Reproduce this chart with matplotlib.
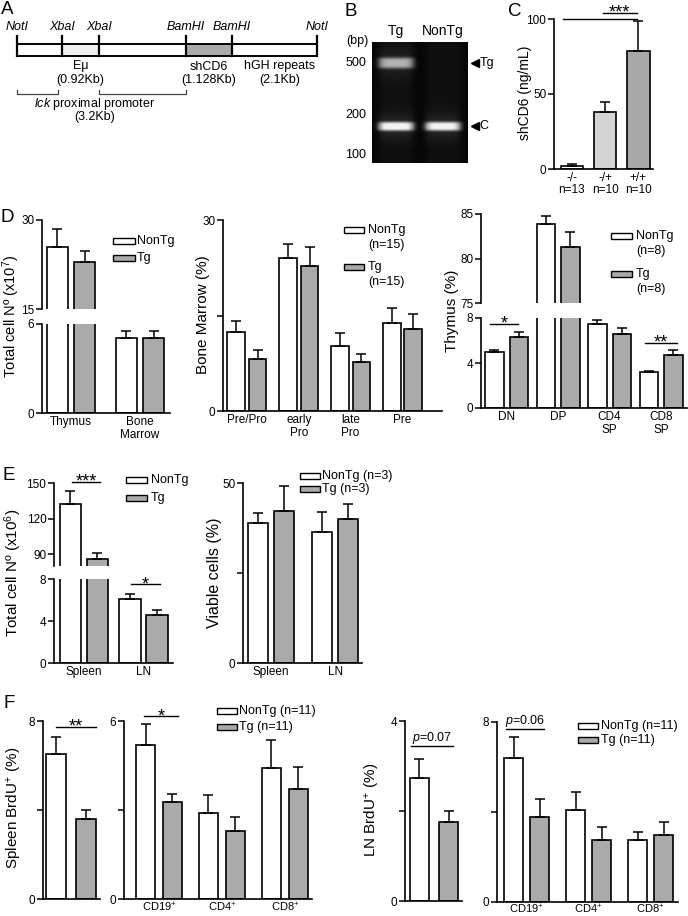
import numpy as np
import matplotlib
matplotlib.use('Agg')
import matplotlib.pyplot as plt
from matplotlib.patches import Rectangle

plt.rcParams['font.family'] = ['Liberation Sans', 'DejaVu Sans']
plt.rcParams['mathtext.fontset'] = 'custom'
plt.rcParams['mathtext.rm'] = 'Liberation Sans'
plt.rcParams['mathtext.it'] = 'Liberation Sans:italic'
plt.rcParams['mathtext.bf'] = 'Liberation Sans:bold'

# ---------------- data ----------------
# A: construct map (segment lengths in kb)
a_sites = ['NotI', 'XbaI', 'XbaI', 'BamHI', 'BamHI', 'NotI']
a_seg_kb = [1.1, 0.92, 2.13, 1.128, 2.1]
a_seg_text = {1: 'Eμ\n(0.92Kb)', 3: 'shCD6\n(1.128Kb)', 4: 'hGH repeats\n(2.1Kb)'}

# B: PCR gel
gel_lanes = ['Tg', 'NonTg']
gel_bands = [[490, 160], [160]]          # bp per lane
gel_band_int = [[0.6, 0.88], [0.86]]
gel_markers = [500, 200, 100]
gel_arrows = [(490, 'Tg'), (160, 'C')]

# C: serum shCD6
c_groups = ['-/-', '-/+', '+/+']
c_n = ['n=13', 'n=10', 'n=10']
c_mean = [2.0, 38.0, 79.0]
c_err = [1.5, 6.5, 19.5]

# D: total cell numbers (x10^7)
d1_labels = ['Thymus', 'Bone\nMarrow']
d1_nontg = [25.4, 5.05]
d1_nontg_err = [3.1, 0.45]
d1_tg = [22.9, 5.05]
d1_tg_err = [1.9, 0.45]

# D: bone marrow subsets (%)
d2_labels = ['Pre/Pro', 'early\nPro', 'late\nPro', 'Pre']
d2_nontg = [12.4, 24.0, 10.2, 13.8]
d2_nontg_err = [1.7, 2.2, 2.0, 2.4]
d2_tg = [8.2, 22.8, 7.7, 12.9]
d2_tg_err = [1.4, 2.9, 1.2, 2.3]

# D: thymus subsets (%)
d3_labels = ['DN', 'DP', 'CD4\nSP', 'CD8\nSP']
d3_nontg = [5.0, 83.9, 7.45, 3.2]
d3_nontg_err = [0.2, 0.9, 0.35, 0.08]
d3_tg = [6.3, 81.3, 6.6, 4.7]
d3_tg_err = [0.5, 1.7, 0.5, 0.45]

# E: total cell numbers (x10^6)
e1_labels = ['Spleen', 'LN']
e1_nontg = [132.0, 6.1]
e1_nontg_err = [11.0, 0.5]
e1_tg = [85.6, 4.55]
e1_tg_err = [5.0, 0.5]

# E: viable cells (%)
e2_nontg = [38.9, 36.4]
e2_nontg_err = [2.8, 5.6]
e2_tg = [42.2, 40.0]
e2_tg_err = [7.0, 4.2]

# F: BrdU+ (%)
f_labels = ['CD19$^{+}$', 'CD4$^{+}$', 'CD8$^{+}$']
f1_nontg, f1_nontg_err, f1_tg, f1_tg_err = [6.5], [0.8], [3.6], [0.4]
f2_nontg = [5.2, 2.9, 4.4]
f2_nontg_err = [0.7, 0.6, 0.97]
f2_tg = [3.27, 2.3, 3.7]
f2_tg_err = [0.27, 0.45, 0.74]
f3_nontg, f3_nontg_err, f3_tg, f3_tg_err = [2.73], [0.43], [1.76], [0.25]
f4_nontg = [6.4, 4.1, 2.76]
f4_nontg_err = [0.93, 0.8, 0.35]
f4_tg = [3.78, 2.76, 2.98]
f4_tg_err = [0.8, 0.57, 0.58]

# ---------------- helpers ----------------
W, H = 688, 916
fig = plt.figure(figsize=(W / 100, H / 100), dpi=100)
TG_GRAY = '#aaaaaa'


def px_axes(x0, y0, x1, y1):
    return fig.add_axes([x0 / W, 1 - y1 / H, (x1 - x0) / W, (y1 - y0) / H])


def style(ax, ylim, yticks, ylabels=None, xlim=None, bottom=True):
    ax.set_ylim(*ylim)
    ax.set_xlim(*xlim)
    ax.set_yticks(yticks)
    ax.set_yticklabels(ylabels if ylabels else [str(t) for t in yticks])
    ax.spines[['top', 'right']].set_visible(False)
    ax.spines['left'].set_linewidth(1.2)
    ax.spines['bottom'].set_linewidth(1.2)
    ax.tick_params(axis='y', length=4, width=1.1, labelsize=8.5, pad=1.5)
    ax.tick_params(axis='x', length=0, labelsize=8.5, pad=2.5)
    ax.patch.set_alpha(0)
    if not bottom:
        ax.spines['bottom'].set_visible(False)
        ax.set_xticks([])


def pair_bars(ax, nontg, nontg_err, tg, tg_err, d, w):
    x = np.arange(len(nontg))
    for xs, vals, errs, fc in ((x - d, nontg, nontg_err, 'white'),
                               (x + d, tg, tg_err, TG_GRAY)):
        ax.bar(xs, vals, w, color=fc, edgecolor='k', linewidth=1.2, zorder=2)
        ax.errorbar(xs, vals, yerr=[np.zeros(len(vals)), errs], fmt='none',
                    ecolor='k', elinewidth=1.1, capsize=3.5, capthick=1.1, zorder=3)
    return x


def sig(ax, x0, x1, y, txt, size=9):
    ax.plot([x0, x1], [y, y], color='k', lw=1, clip_on=False)
    if not txt:
        return
    if '*' in txt:
        # asterisks sit high in the glyph box: anchor on baseline and nudge down
        ax.annotate(txt, ((x0 + x1) / 2, y), xytext=(0, -3.5), textcoords='offset points',
                    ha='center', va='baseline', fontsize=13, annotation_clip=False)
    else:
        ax.text((x0 + x1) / 2, y, txt, ha='center', va='bottom', fontsize=size, clip_on=False)


# ---------------- B: gel ----------------
axg = px_axes(372, 42, 468, 163)
gx_lim = (-0.51, 1.53)
gy_lim = (np.log10(84), np.log10(707))
gx = np.linspace(*gx_lim, 200)
gy = np.linspace(*gy_lim, 250)
GX, GY = np.meshgrid(gx, gy)
img = np.full(GX.shape, 0.03)
for i, (bands, ints) in enumerate(zip(gel_bands, gel_band_int)):
    lane = np.exp(-((GX - i) / 0.38) ** 6)
    img += 0.035 * lane
    for bp, a in zip(bands, ints):
        sy = 0.042 if bp > 300 else 0.034
        img += a * lane * np.exp(-((GY - np.log10(bp)) / sy) ** 4)
        img += 0.12 * a * lane * np.exp(-((GY - np.log10(bp)) / (3 * sy)) ** 2)
axg.imshow(np.clip(img, 0, 1), extent=[*gx_lim, *gy_lim], origin='lower', cmap='gray',
           vmin=0, vmax=1.05, aspect='auto', interpolation='bilinear')
axg.set_xlim(*gx_lim)
axg.set_ylim(*gy_lim)
axg.set_yticks(np.log10(gel_markers))
axg.set_yticklabels([str(m) for m in gel_markers])
axg.set_xticks(range(len(gel_lanes)))
axg.set_xticklabels(gel_lanes)
axg.xaxis.tick_top()
axg.tick_params(axis='y', length=0, labelsize=9, pad=4)
axg.tick_params(axis='x', length=0, labelsize=10, pad=3)
for s in axg.spines.values():
    s.set_visible(False)
for bp, lab in gel_arrows:
    axg.plot(1.68, np.log10(bp), marker='<', ms=5.5, color='k', clip_on=False)
    axg.text(1.78, np.log10(bp), lab, ha='left', va='center', fontsize=9, clip_on=False)

# ---------------- C ----------------
axc = px_axes(554, 19, 653, 169)
xc = np.arange(len(c_mean))
axc.bar(xc, c_mean, 0.68, color=['white', '#d4d4d4', '#a9a9a9'], edgecolor='k', linewidth=1.2, zorder=2)
axc.errorbar(xc, c_mean, yerr=[np.zeros(len(c_mean)), c_err], fmt='none', ecolor='k',
             elinewidth=1.1, capsize=3.5, capthick=1.1, zorder=3)
style(axc, (0, 100), [0, 50, 100], xlim=(-0.54, 2.44))
axc.set_xticks(xc)
axc.set_xticklabels([g + '\n' + n for g, n in zip(c_groups, c_n)], fontsize=8.5, linespacing=0.95)
sig(axc, -0.27, 1.95, 100, '')
sig(axc, 0.93, 1.95, 104, '***')

# ---------------- D left (broken) ----------------
dl_top = px_axes(42, 220, 170, 309)
dl_bot = px_axes(42, 324, 170, 413)
for ax in (dl_top, dl_bot):
    x = pair_bars(ax, d1_nontg, d1_nontg_err, d1_tg, d1_tg_err, 0.2, 0.3)
style(dl_top, (15, 30), [15, 30], xlim=(-0.42, 1.435), bottom=False)
style(dl_bot, (0, 6), [0, 6], xlim=(-0.42, 1.435))
dl_bot.set_xticks(x)
dl_bot.set_xticklabels(d1_labels, linespacing=1.1)

# ---------------- D middle ----------------
dm = px_axes(223, 220, 442, 411)
x = pair_bars(dm, d2_nontg, d2_nontg_err, d2_tg, d2_tg_err, 0.207, 0.34)
style(dm, (0, 30), [0, 15, 30], ['0', '', '30'], xlim=(-0.46, 3.76))
dm.set_xticks(x)
dm.set_xticklabels(d2_labels, linespacing=1.1)

# ---------------- D right (broken) ----------------
dr_top = px_axes(481, 214, 687, 303)
dr_bot = px_axes(481, 318, 687, 408)
for ax in (dr_top, dr_bot):
    x = pair_bars(ax, d3_nontg, d3_nontg_err, d3_tg, d3_tg_err, 0.238, 0.36)
style(dr_top, (75, 85), [75, 80, 85], xlim=(-0.495, 3.5), bottom=False)
style(dr_bot, (0, 8), [0, 4, 8], xlim=(-0.495, 3.5))
dr_bot.set_xticks(x)
dr_bot.set_xticklabels(d3_labels, linespacing=1.1)
sig(dr_bot, -0.32, 0.22, 7.47, '*')
sig(dr_bot, 2.69, 3.31, 5.8, '**')

# ---------------- E left (broken) ----------------
el_top = px_axes(54, 483, 173, 566)
el_bot = px_axes(54, 579, 173, 663)
for ax in (el_top, el_bot):
    x = pair_bars(ax, e1_nontg, e1_nontg_err, e1_tg, e1_tg_err, 0.227, 0.36)
style(el_top, (80, 150), [90, 120, 150], xlim=(-0.504, 1.496), bottom=False)
style(el_bot, (0, 8), [0, 4, 8], xlim=(-0.504, 1.496))
el_bot.set_xticks(x)
el_bot.set_xticklabels(e1_labels)
sig(el_top, -0.2, 0.27, 151, '***')
sig(el_bot, 0.79, 1.28, 7.5, '*')

# ---------------- E right ----------------
er = px_axes(243, 483, 362, 663)
x = pair_bars(er, e2_nontg, e2_nontg_err, e2_tg, e2_tg_err, 0.203, 0.31)
style(er, (0, 50), [0, 25, 50], ['0', '', '50'], xlim=(-0.4375, 1.42))
er.set_xticks(x)
er.set_xticklabels(e1_labels)

# ---------------- F ----------------
f1 = px_axes(43, 721, 100, 899)
pair_bars(f1, f1_nontg, f1_nontg_err, f1_tg, f1_tg_err, 0.25, 0.33)
style(f1, (0, 8), [0, 4, 8], ['0', '', '8'], xlim=(-0.467, 0.483))
f1.set_xticks([])
sig(f1, -0.25, 0.417, 7.73, '**')

f2 = px_axes(124, 721, 312, 899)
x = pair_bars(f2, f2_nontg, f2_nontg_err, f2_tg, f2_tg_err, 0.214, 0.31)
style(f2, (0, 6), [0, 3, 6], ['0', '', '6'], xlim=(-0.556, 2.43))
f2.set_xticks(x)
f2.set_xticklabels(f_labels)
f2.tick_params(axis='x', labelsize=8, pad=1)
sig(f2, -0.24, 0.30, 6.16, '*')

f3 = px_axes(405, 721, 462, 901)
pair_bars(f3, f3_nontg, f3_nontg_err, f3_tg, f3_tg_err, 0.242, 0.317)
style(f3, (0, 4), [0, 2, 4], ['0', '', '4'], xlim=(-0.483, 0.467))
f3.set_xticks([])
sig(f3, -0.38, 0.32, 3.44, '$p$=0.07')

f4 = px_axes(497, 722, 678, 902)
x = pair_bars(f4, f4_nontg, f4_nontg_err, f4_tg, f4_tg_err, 0.21, 0.306)
style(f4, (0, 8), [0, 4, 8], ['0', '', '8'], xlim=(-0.476, 2.44))
f4.set_xticks(x)
f4.set_xticklabels(f_labels)
f4.tick_params(axis='x', labelsize=8, pad=0.5)
sig(f4, -0.33, 0.28, 7.69, '$p$=0.06')

# ---------------- overlay (pixel coords) ----------------
ov = fig.add_axes([0, 0, 1, 1], zorder=10)
ov.set_xlim(0, W)
ov.set_ylim(H, 0)
ov.axis('off')

# A: construct map
edges = 17 + 40.7 * np.concatenate([[0], np.cumsum(a_seg_kb)])
fills = ['white', '#efefef', 'white', '#a9a9a9', 'white']
for i in range(len(a_seg_kb)):
    ov.add_patch(Rectangle((edges[i], 44), edges[i + 1] - edges[i], 12,
                           facecolor=fills[i], edgecolor='k', lw=1.4))
for e, site in zip(edges, a_sites):
    ov.plot([e, e], [36, 56], color='k', lw=1.6)
    ov.text(e, 27, site, style='italic', ha='center', va='center', fontsize=9)
for i, txt in a_seg_text.items():
    cx = (edges[i] + edges[i + 1]) / 2 + (5 if i == 4 else 0)
    ov.text(cx, 60.5, txt, ha='center', va='top', fontsize=9, linespacing=1.2)
for xa, xb in ((edges[0], edges[1] - 4), (edges[2], edges[3])):
    ov.plot([xa, xa, xb, xb], [90, 94, 94, 90], color='#444444', lw=0.9)
ov.text(95, 104, '$lck$ proximal promoter', ha='center', va='center', fontsize=9)
ov.text(95, 117, '(3.2Kb)', ha='center', va='center', fontsize=9)
ov.text(357, 41, '(bp)', ha='center', va='center', fontsize=9)

# panel letters
for lx, ly, lt in ((7, 10, 'A'), (351, 11, 'B'), (515, 12, 'C'), (7, 217, 'D'),
                   (9, 476, 'E'), (9, 704, 'F')):
    ov.text(lx, ly, lt, ha='center', va='center', fontsize=13.5)

# y-axis titles
for yx, yy, yt, fs in ((525, 93, 'shCD6 (ng/mL)', 10),
                       (11, 316, 'Total cell Nº (x10$^{7}$)', 10.5),
                       (203, 315, 'Bone Marrow (%)', 11),
                       (452, 311, 'Thymus (%)', 11),
                       (13, 573, 'Total cell Nº (x10$^{6}$)', 11),
                       (214, 573, 'Viable cells (%)', 11.5),
                       (15, 808, 'Spleen BrdU$^{+}$ (%)', 11),
                       (372, 810, 'LN BrdU$^{+}$ (%)', 11)):
    ov.text(yx, yy, yt, rotation=90, ha='center', va='center', fontsize=fs)


def legend(x0, x1, rows, labels, tx):
    for (y, lab), fc in zip(zip(rows, labels), ('white', TG_GRAY)):
        ov.add_patch(Rectangle((x0, y - 3), x1 - x0, 6, facecolor=fc, edgecolor='k', lw=1))
        for k, line in enumerate(lab.split('\n')):
            ov.text(tx, y + 15 * k, line, ha='left', va='center', fontsize=9)


legend(113, 135, (241, 258), ('NonTg', 'Tg'), 137)
legend(344, 364, (230, 267), ('NonTg\n(n=15)', 'Tg\n(n=15)'), 368)
legend(611, 632, (236, 274), ('NonTg\n(n=8)', 'Tg\n(n=8)'), 636)
legend(126, 147, (480, 498), ('NonTg', 'Tg'), 151)
legend(300, 320, (476, 489), ('NonTg (n=3)', 'Tg (n=3)'), 322)
legend(217, 237, (711, 727), ('NonTg (n=11)', 'Tg (n=11)'), 239)
legend(578, 598, (726, 740), ('NonTg (n=11)', 'Tg (n=11)'), 601)

fig.savefig('out.png', dpi=100)
